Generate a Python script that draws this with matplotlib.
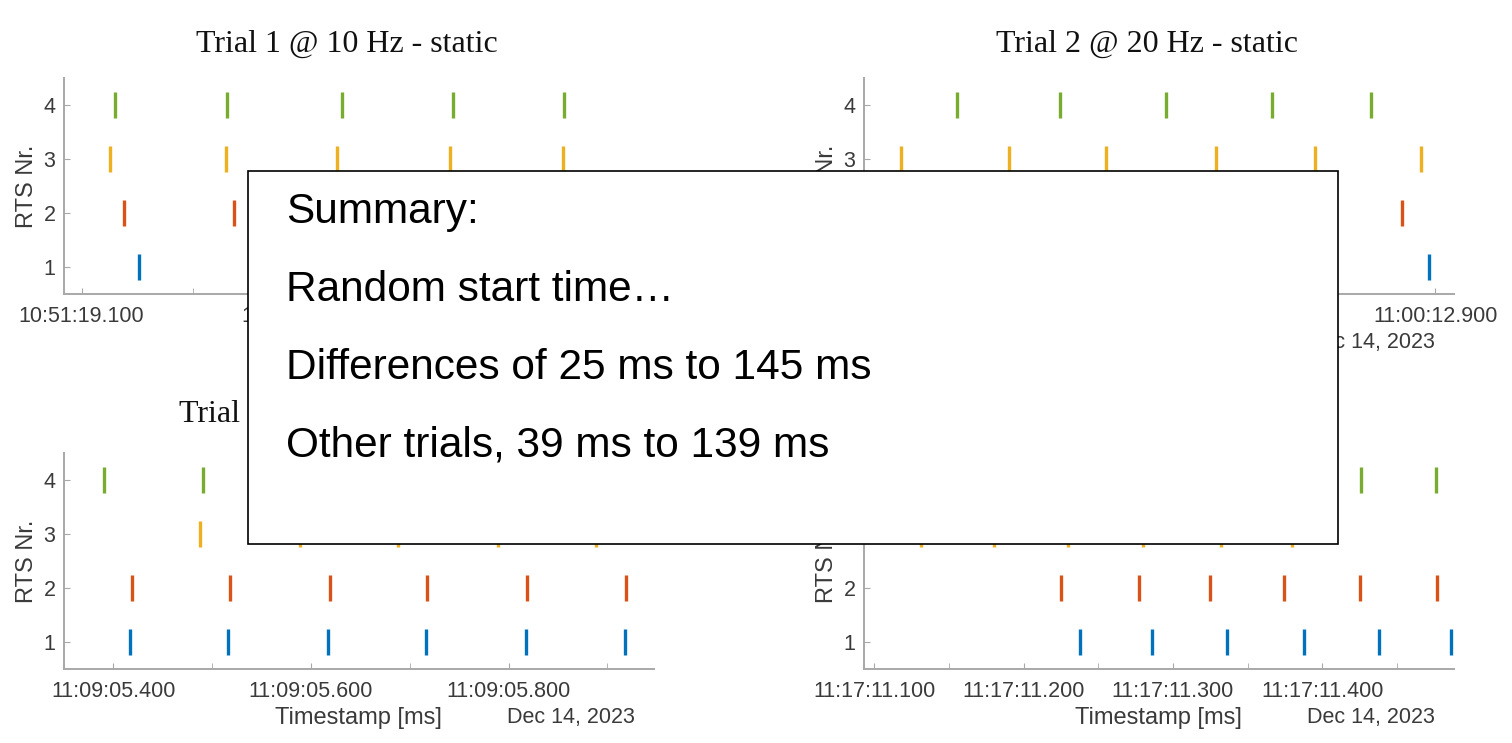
import pandas as pd
import numpy as np
import matplotlib
matplotlib.use("Agg")
import matplotlib.pyplot as plt
from matplotlib.ticker import FixedLocator, FuncFormatter
from matplotlib.patches import Rectangle

DATE = "2023-12-14"

titles = ["Trial 1 @ 10 Hz - static", "Trial 2 @ 20 Hz - static",
          "Trial 3 @ 10 Hz - dynamic", "Trial 4 @ 20 Hz - dynamic"]
start_times = ["10:51:19", "11:00:12", "11:09:05", "11:17:11"]

rts_ids = [1, 2, 3, 4]
rts_colors = ["#0072BD", "#D95319", "#EDB120", "#77AC30"]

# receive times in ms after the start second, one list per RTS
trial1_rts1 = [152]
trial1_rts2 = [138, 237]
trial1_rts3 = [126, 230, 330, 432, 533]
trial1_rts4 = [130, 231, 334, 434, 534]

trial2_rts1 = [897]
trial2_rts2 = [884]
trial2_rts3 = [642, 694, 741, 794, 842, 893]
trial2_rts4 = [669, 719, 770, 821, 869]

trial3_rts1 = [417, 516, 617, 716, 818, 918]
trial3_rts2 = [419, 518, 619, 718, 819, 919]
trial3_rts3 = [488, 589, 688, 789, 889]
trial3_rts4 = [391, 491]

trial4_rts1 = [238, 286, 336, 388, 438, 486]
trial4_rts2 = [225, 277, 325, 374, 425, 477]
trial4_rts3 = [131, 180, 230, 280, 332, 380]
trial4_rts4 = [426, 476]

trials = [
    [trial1_rts1, trial1_rts2, trial1_rts3, trial1_rts4],
    [trial2_rts1, trial2_rts2, trial2_rts3, trial2_rts4],
    [trial3_rts1, trial3_rts2, trial3_rts3, trial3_rts4],
    [trial4_rts1, trial4_rts2, trial4_rts3, trial4_rts4],
]

view_ms = [(84, 615), (624, 909), (350, 947), (93, 488)]
tick_step = [100, 50, 100, 50]
label_every = [200, 100, 200, 100]
label_anchor = [100, 0, 0, 0]

summary_lines = ["Summary:",
                 "Random start time\u2026",
                 "Differences of 25 ms to 145 ms",
                 "Other trials, 39 ms to 139 ms"]

W, H = 1512, 743
fig = plt.figure(figsize=(W / 100, H / 100), dpi=100)
plt.rcParams["font.family"] = ["Liberation Sans", "DejaVu Sans"]

axis_grey = "#a8a8a8"
text_grey = "#3a3a3a"

# left edge / top edge in pixels for each panel
panel_px = [(63.8, 78.3), (863.8, 78.3), (63.8, 453.3), (863.8, 453.3)]
panel_w, panel_h = 590, 215.5
title_gap = [27, 27, 31, 31]
title_x = [0.48, 0.48, 0.487, 0.487]


def time_formatter(start):
    t0 = pd.Timestamp(f"{DATE} {start}")
    def fmt(v, pos):
        return (t0 + pd.Timedelta(milliseconds=float(v))).strftime("%H:%M:%S.%f")[:-3]
    return FuncFormatter(fmt)


for i in range(4):
    x0, y0 = panel_px[i]
    ax = fig.add_axes([x0 / W, 1 - (y0 + panel_h) / H, panel_w / W, panel_h / H])

    for rts, col, times in zip(rts_ids, rts_colors, trials[i]):
        ax.plot(times, [rts] * len(times), linestyle="none", marker="|",
                markersize=19, markeredgewidth=2.4, color=col)

    lo, hi = view_ms[i]
    ax.set_xlim(lo, hi)
    ax.set_ylim(0.5, 4.5)

    ticks = np.arange(np.ceil(lo / tick_step[i]) * tick_step[i], hi, tick_step[i])
    major = [t for t in ticks if (t - label_anchor[i]) % label_every[i] == 0]
    minor = [t for t in ticks if (t - label_anchor[i]) % label_every[i] != 0]
    ax.xaxis.set_major_locator(FixedLocator(major))
    ax.xaxis.set_minor_locator(FixedLocator(minor))
    ax.xaxis.set_major_formatter(time_formatter(start_times[i]))
    ax.set_yticks(rts_ids)

    for side in ["top", "right"]:
        ax.spines[side].set_visible(False)
    for side in ["left", "bottom"]:
        ax.spines[side].set_color(axis_grey)
        ax.spines[side].set_linewidth(1.4)
    ax.tick_params(which="both", direction="in", length=4, color=axis_grey,
                   labelsize=15.5, labelcolor=text_grey)
    ax.tick_params(axis="x", which="both", pad=9)
    ax.tick_params(axis="y", pad=6)

    ax.set_ylabel("RTS Nr.", fontsize=17, color=text_grey)
    ax.yaxis.set_label_coords(-0.062, 0.5)
    ax.yaxis.label.set_va("center")
    ax.set_xlabel("Timestamp [ms]", fontsize=17, color=text_grey)
    ax.xaxis.set_label_coords(0.5, -0.227)
    ax.xaxis.label.set_va("center")
    ax.text(1 - 19 / panel_w, -0.227, pd.Timestamp(DATE).strftime("%b %d, %Y"),
            transform=ax.transAxes, ha="right", va="center",
            fontsize=15.5, color=text_grey)

    ax.text(title_x[i], 1 + title_gap[i] / panel_h, titles[i], transform=ax.transAxes,
            ha="center", va="baseline", fontsize=23, color="#111111",
            family=["Liberation Serif", "DejaVu Serif"])

# summary box drawn over the panels
box_l, box_t, box_r, box_b = 248, 171, 1338, 544
fig.add_artist(Rectangle((box_l / W, 1 - box_b / H), (box_r - box_l) / W,
                         (box_b - box_t) / H, transform=fig.transFigure,
                         facecolor="white", edgecolor="black", linewidth=1.2,
                         zorder=10))
for k, line in enumerate(summary_lines):
    fig.text(286 / W, 1 - (223 + 78 * k) / H, line, fontsize=30.5,
             color="black", va="baseline", ha="left", zorder=11)

fig.savefig("out.png", dpi=100)
